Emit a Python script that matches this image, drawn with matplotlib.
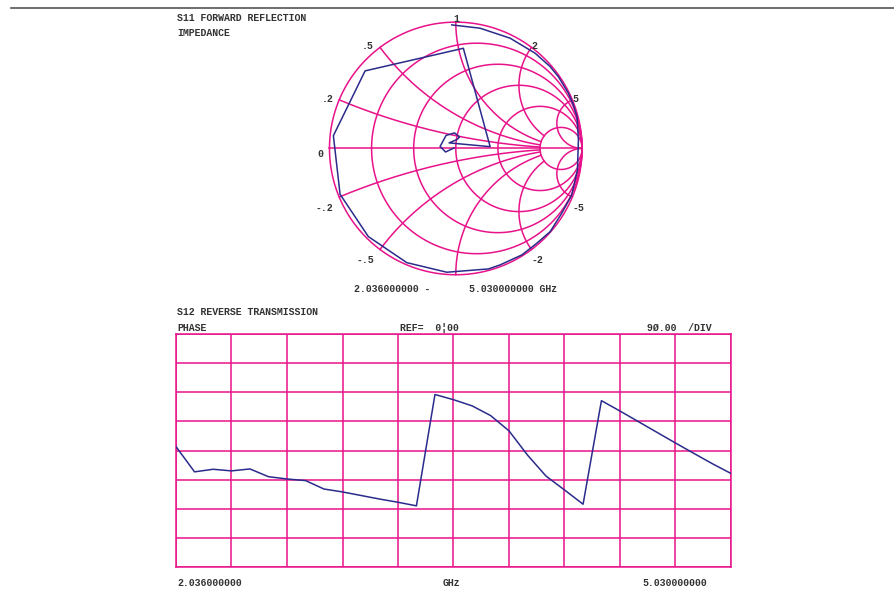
import numpy as np
import matplotlib.pyplot as plt
from matplotlib.lines import Line2D

gamma_re = [-0.032, 0.192, 0.430, 0.628, 0.747, 0.812, 0.892, 0.931, 0.960, 0.971,
            0.963, 0.918, 0.839, 0.747, 0.641, 0.523, 0.351, 0.258, -0.071, -0.388,
            -0.692, -0.916, -0.969, -0.718, 0.060, 0.272, -0.053, 0.010, 0.030,
            -0.010, -0.077, -0.124, -0.081, -0.013]
gamma_im = [0.978, 0.952, 0.873, 0.754, 0.648, 0.568, 0.437, 0.344, 0.249, 0.067,
            -0.170, -0.368, -0.513, -0.659, -0.751, -0.843, -0.922, -0.954, -0.980, -0.904,
            -0.698, -0.363, 0.101, 0.614, 0.793, 0.014, 0.044, 0.071, 0.091,
            0.123, 0.103, 0.016, -0.028, 0.004]

# Smith chart grid values
r_circles = [0, 0.2, 0.5, 1, 2, 5]
x_arcs = [0.2, 0.5, 1, 2, 5, -0.2, -0.5, -1, -2, -5]
x_labels = [0.2, 0.5, 1, 2, 5, -0.2, -0.5, -2, -5, 0]
x_label_text = ['.2', '.5', '1', '2', '5', '-.2', '-.5', '-2', '-5', '0']

# S12 phase trace
freq_ghz = [2.036, 2.136, 2.236, 2.335, 2.435, 2.535, 2.635, 2.735, 2.834, 2.934,
            3.034, 3.134, 3.234, 3.333, 3.433, 3.533, 3.633, 3.733, 3.832, 3.932,
            4.032, 4.132, 4.232, 4.331, 4.431, 4.531, 4.631, 4.731, 4.830, 4.930, 5.030]
phase_deg = [12, -66, -58, -63, -57, -81, -88, -93, -119, -128,
             -139, -150, -160, -171, 173, 157, 138, 108, 61, -14,
             -79, -122, -166, 154, 122, 89, 56, 23, -9, -41, -71]

grid_col = '#e8128a'
trace_col = '#2b2b8c'
text_col = '#333333'
mono = ['Liberation Mono', 'DejaVu Sans Mono']
tkw = dict(family=mono, fontsize=7.1, fontweight='bold', color=text_col)

fig = plt.figure(figsize=(8.95, 5.9), dpi=100)
fig.add_artist(Line2D([0.012, 1.0], [0.9864, 0.9864], color='#555555', lw=1.2))

# ---- Smith chart ----
sm = fig.add_axes([0.354, 0.5129, 0.3105, 0.471])
sm.set_xlim(-1.1, 1.1)
sm.set_ylim(-1.1, 1.1)
sm.set_aspect('equal')
sm.axis('off')

t = np.linspace(-np.pi / 2 + 1e-4, np.pi / 2 - 1e-4, 600)
for r in r_circles:
    z = r + 1j * np.tan(t)
    g = (z - 1) / (z + 1)
    g = np.append(g, 1)
    sm.plot(g.real, g.imag, color=grid_col, lw=1.1)
for x in x_arcs:
    # inner arcs stop at the r=5 circle, the outer ones run to the edge
    r_end = np.pi / 2 - 1e-4 if abs(x) >= 5 else np.arctan(5)
    z = np.tan(np.linspace(0, r_end, 400)) + 1j * x
    g = (z - 1) / (z + 1)
    sm.plot(g.real, g.imag, color=grid_col, lw=1.1)
sm.plot([-1, 1], [0, 0], color=grid_col, lw=1.1)

for x, lab in zip(x_labels, x_label_text):
    g = (1j * x - 1) / (1j * x + 1)
    if g.real < -0.05:
        ha, dx = 'right', -6
    elif g.real > 0.05:
        ha, dx = 'left', 0
    else:
        ha, dx = 'center', 0
    if x < 0:
        dy = -11
    elif x == 0:
        dy = -6
    elif x == 1:
        dy = 3
    else:
        dy = 1
    sm.annotate(lab, xy=(g.real, g.imag), xytext=(dx, dy), textcoords='offset pixels',
                ha=ha, va='center', **tkw)

sm.plot(gamma_re, gamma_im, color=trace_col, lw=1.1)

fig.text(177 / 895, 1 - 18 / 590, 'S11 FORWARD REFLECTION', va='center', **tkw)
fig.text(177 / 895, 1 - 33 / 590, 'IMPEDANCE', va='center', **tkw)
fig.text(354 / 895, 1 - 289 / 590, '2.036000000 -', va='center', **tkw)
fig.text(469 / 895, 1 - 289 / 590, '5.030000000 GHz', va='center', **tkw)

# ---- phase plot ----
ax = fig.add_axes([176 / 895, 23 / 590, 555 / 895, 233 / 590])
ax.plot(freq_ghz, phase_deg, color=trace_col, lw=1.1, zorder=3)
ax.set_xlim(freq_ghz[0], freq_ghz[-1])
ax.set_ylim(-360, 360)
ax.set_xticks(np.linspace(freq_ghz[0], freq_ghz[-1], 11))
ax.set_yticks(np.arange(-360, 361, 90))
ax.grid(True, color=grid_col, lw=1.1)
ax.tick_params(length=0, labelbottom=False, labelleft=False)
for s in ax.spines.values():
    s.set_color(grid_col)
    s.set_linewidth(1.1)

fig.text(177 / 895, 1 - 312 / 590, 'S12 REVERSE TRANSMISSION', va='center', **tkw)
fig.text(177 / 895, 1 - 328 / 590, 'PHASE', va='center', **tkw)
fig.text(400 / 895, 1 - 328 / 590, 'REF=  0\u00a600', va='center', **tkw)
fig.text(647 / 895, 1 - 328 / 590, '9\u00d8.00  /DIV', va='center', **tkw)
fig.text(177 / 895, 1 - 583 / 590, '2.036000000', va='center', **tkw)
fig.text(451 / 895, 1 - 583 / 590, 'GHz', va='center', ha='center', **tkw)
fig.text(642 / 895, 1 - 583 / 590, '5.030000000', va='center', **tkw)

fig.savefig('out.png', dpi=100)
